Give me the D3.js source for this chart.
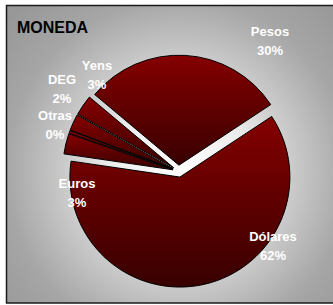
<!DOCTYPE html>
<html>
<head>
  <meta charset="UTF-8">
  <style>
    body { margin: 0; background-color: #ffffff; }
    svg { display: block; }
    .lbl { font-family: Arial, "Liberation Sans", sans-serif; font-weight: bold; font-size: 13px; fill: #ffffff; }
    .title { font-family: Arial, "Liberation Sans", sans-serif; font-weight: bold; font-size: 16px; fill: #000000; }
  </style>
</head>
<body>
<svg></svg>
<script src="https://d3js.org/d3.v7.min.js"></script>
<script>
let width = 333, height = 305;

// Data (share of each currency, %)
let categories = ["Pesos", "Dólares", "Euros", "Otras", "DEG", "Yens"];
let values = [29.6, 61.6, 3.0, 0.4, 2.4, 3.0];

// Where each label sits (centre x, first-line baseline)
let labelPos = [[270, 36], [273, 241], [77, 188], [55, 120], [62, 84], [97, 70]];

let cx = 178.6, cy = 171.2, radius = 110, explode = 6;

let svg = d3.select("svg")
    .attr("width", width)
    .attr("height", height);

let defs = svg.append("defs");

// Grey background, lighter towards the pie centre
let bg = defs.append("radialGradient")
    .attr("id", "bgGrad")
    .attr("gradientUnits", "userSpaceOnUse")
    .attr("cx", cx).attr("cy", cy).attr("r", 230);
[[0, "#ffffff"], [0.3, "#ececec"], [0.5, "#cacaca"], [0.75, "#a6a6a6"], [1, "#979797"]]
  .forEach(s => bg.append("stop").attr("offset", s[0]).attr("stop-color", s[1]));

// Dark red slice gradient, top to bottom
let sg = defs.append("linearGradient")
    .attr("id", "sliceGrad")
    .attr("x1", 0).attr("y1", 0).attr("x2", 0).attr("y2", 1);
sg.append("stop").attr("offset", 0).attr("stop-color", "#850000");
sg.append("stop").attr("offset", 1).attr("stop-color", "#380000");

svg.append("rect")
    .attr("x", 6.5).attr("y", 5.5)
    .attr("width", 340).attr("height", 297.5)
    .attr("fill", "url(#bgGrad)")
    .attr("stroke", "#1a1a1a")
    .attr("stroke-width", 1.5);

svg.append("text")
    .attr("class", "title")
    .attr("x", 17).attr("y", 32.5)
    .text("MONEDA");

let pie = d3.pie()
    .sort(null)
    .startAngle(-50 * Math.PI / 180)
    .endAngle(310 * Math.PI / 180);

let arcs = pie(values);

let arc = d3.arc()
    .innerRadius(0)
    .outerRadius(radius);

let total = d3.sum(values);

svg.append("g")
    .attr("transform", `translate(${cx},${cy})`)
    .selectAll("path")
    .data(arcs)
    .enter()
    .append("path")
    .attr("transform", d => {
      let a = (d.startAngle + d.endAngle) / 2;
      return `translate(${explode * Math.sin(a)},${-explode * Math.cos(a)})`;
    })
    .attr("d", arc)
    .attr("fill", "url(#sliceGrad)")
    .attr("stroke", "#000000")
    .attr("stroke-width", 1);

// Labels: name and rounded percentage
let labels = svg.append("g");
arcs.forEach((d, i) => {
  let t = labels.append("text")
      .attr("class", "lbl")
      .attr("text-anchor", "middle")
      .attr("x", labelPos[i][0])
      .attr("y", labelPos[i][1]);
  t.append("tspan").attr("x", labelPos[i][0]).text(categories[i]);
  t.append("tspan").attr("x", labelPos[i][0]).attr("dy", 18.5)
      .text(Math.round(d.data / total * 100) + "%");
});
</script>
</body>
</html>
